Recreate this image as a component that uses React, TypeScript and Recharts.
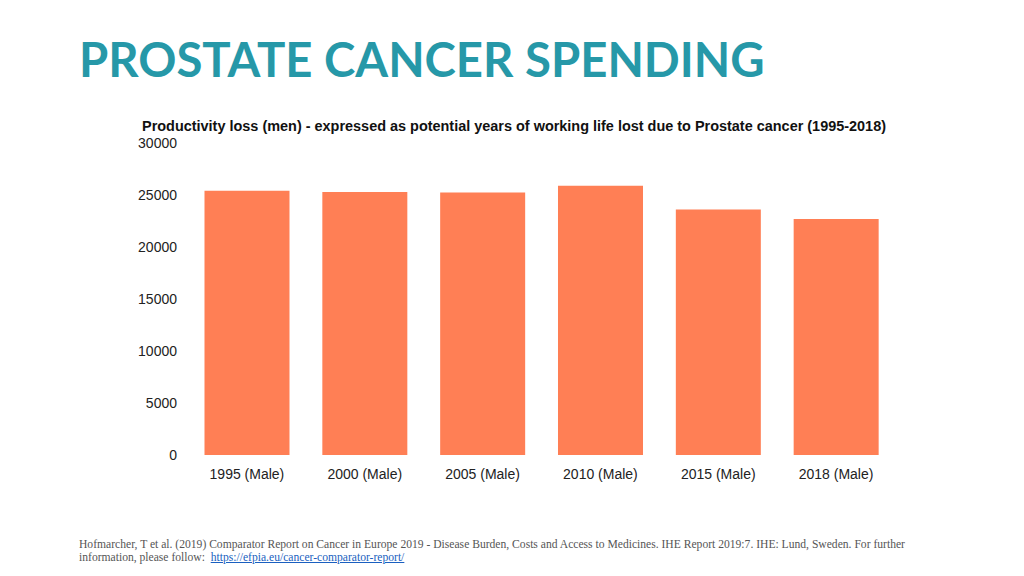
import React from 'react';
import { BarChart, Bar, XAxis, YAxis } from 'recharts';

const categories = ['1995 (Male)', '2000 (Male)', '2005 (Male)', '2010 (Male)', '2015 (Male)', '2018 (Male)'];
const yearsLost = [25400, 25300, 25250, 25900, 23600, 22700];
const yTicks = [0, 5000, 10000, 15000, 20000, 25000, 30000];

const chartData = categories.map((name, i) => ({ name, value: yearsLost[i] }));

const App: React.FC = () => {
  return (
    <div style={{ position: 'absolute', left: 0, top: 0, width: 1024, height: 576, background: '#fff', overflow: 'hidden' }}>
      <div
        style={{
          position: 'absolute',
          left: 79,
          top: 23,
          fontFamily: 'Lato',
          fontWeight: 700,
          fontSize: 47.3,
          color: '#2698a8',
          whiteSpace: 'nowrap',
          lineHeight: '72px',
        }}
      >
        PROSTATE CANCER SPENDING
      </div>

      <svg style={{ position: 'absolute', left: 0, top: 0 }} width={1024} height={150}>
        <text
          x={142}
          y={131}
          textLength={744}
          lengthAdjust="spacingAndGlyphs"
          fontFamily="Liberation Sans, Arial, sans-serif"
          fontWeight={700}
          fontSize={14.5}
          fill="#111"
        >
          Productivity loss (men) - expressed as potential years of working life lost due to Prostate cancer (1995-2018)
        </text>
      </svg>

      <div style={{ position: 'absolute', left: 0, top: 0 }}>
        <BarChart
          width={1024}
          height={576}
          data={chartData}
          margin={{ top: 143, right: 129, left: 0, bottom: 81 }}
          barCategoryGap="14%"
        >
          <XAxis
            dataKey="name"
            axisLine={false}
            tickLine={false}
            tickSize={0}
            tickMargin={14}
            interval={0}
            height={40}
            tick={{ fill: '#222', fontSize: 14, fontFamily: 'Liberation Sans, Arial, sans-serif' }}
          />
          <YAxis
            domain={[0, 30000]}
            ticks={yTicks}
            axisLine={false}
            tickLine={false}
            tickSize={0}
            tickMargin={11}
            width={188}
            interval={0}
            tick={{ fill: '#222', fontSize: 14, fontFamily: 'Liberation Sans, Arial, sans-serif' }}
          />
          <Bar dataKey="value" fill="#ff7f55" isAnimationActive={false} />
        </BarChart>
      </div>

      <div
        style={{
          position: 'absolute',
          left: 79,
          top: 539,
          width: 900,
          fontFamily: 'Liberation Serif, serif',
          fontSize: 11.6,
          lineHeight: '12.5px',
          color: '#555',
          whiteSpace: 'nowrap',
        }}
      >
        Hofmarcher, T et al. (2019) Comparator Report on Cancer in Europe 2019 - Disease Burden, Costs and Access to Medicines. IHE Report 2019:7. IHE: Lund, Sweden. For further
        <br />
        information, please follow:&nbsp;{' '}
        <a href="https://efpia.eu/cancer-comparator-report/" style={{ color: '#1a5fc0' }}>
          https://efpia.eu/cancer-comparator-report/
        </a>
      </div>
    </div>
  );
};

export default App;
